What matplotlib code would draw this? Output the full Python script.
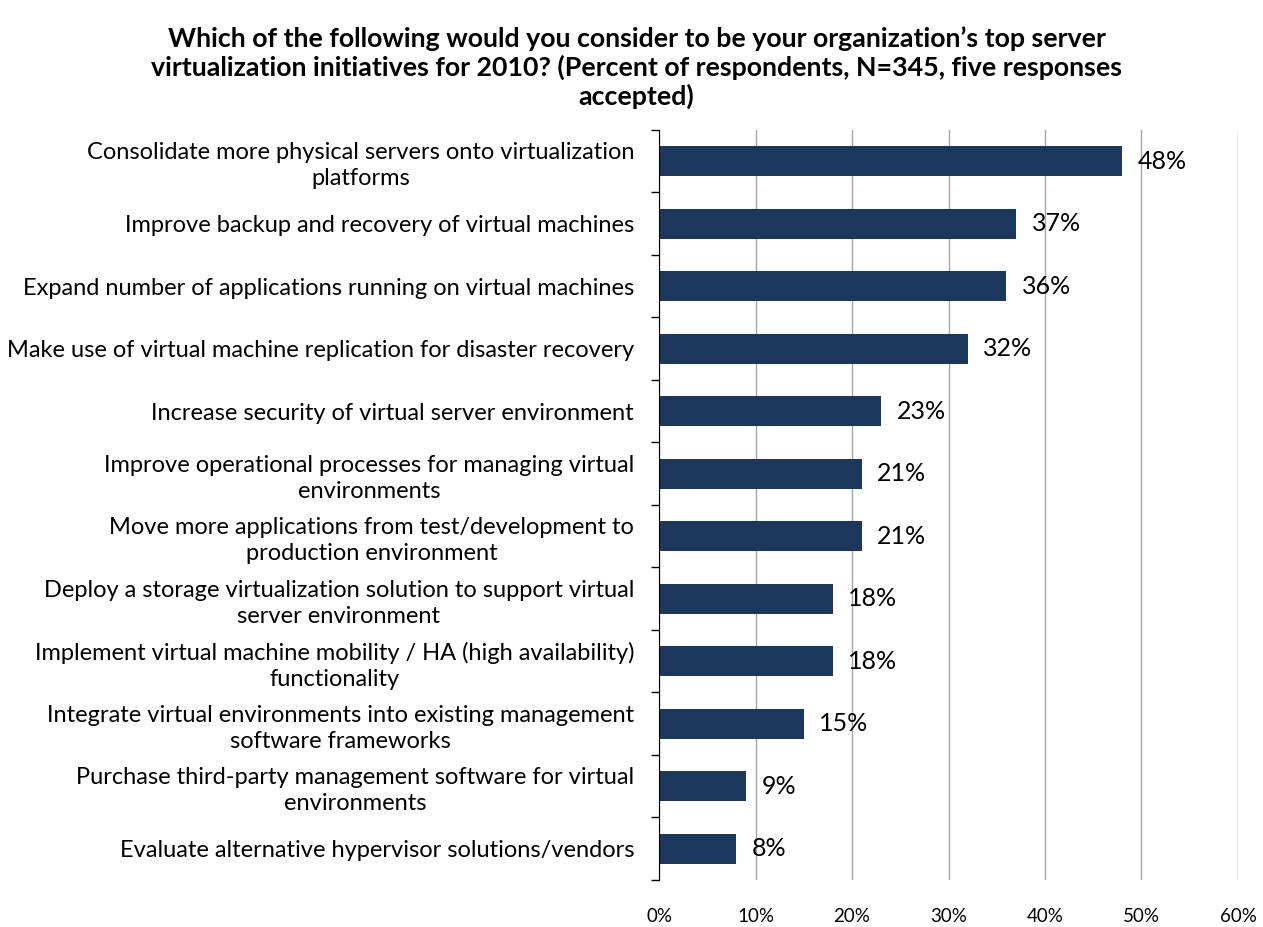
import matplotlib.pyplot as plt

plt.rcParams['font.family'] = ['Lato', 'DejaVu Sans']

categories = [
    'Consolidate more physical servers onto virtualization\nplatforms',
    'Improve backup and recovery of virtual machines',
    'Expand number of applications running on virtual machines',
    'Make use of virtual machine replication for disaster recovery',
    'Increase security of virtual server environment',
    'Improve operational processes for managing virtual\nenvironments',
    'Move more applications from test/development to\nproduction environment',
    'Deploy a storage virtualization solution to support virtual\nserver environment',
    'Implement virtual machine mobility / HA (high availability)\nfunctionality',
    'Integrate virtual environments into existing management\nsoftware frameworks',
    'Purchase third-party management software for virtual\nenvironments',
    'Evaluate alternative hypervisor solutions/vendors',
]
values = [48, 37, 36, 32, 23, 21, 21, 18, 18, 15, 9, 8]
xticks = [0, 10, 20, 30, 40, 50, 60]

title = ("Which of the following would you consider to be your organization\u2019s top server\n"
         "virtualization initiatives for 2010? (Percent of respondents, N=345, five responses\n"
         "accepted)")

fig = plt.figure(figsize=(12.63, 9.27), dpi=100)
ax = fig.add_axes([0.5218, 0.0507, 0.4584, 0.8091])

n = len(categories)
ypos = list(range(n))
ax.barh(ypos, values, height=0.48, color='#1B375C', zorder=3)
for y, v in zip(ypos, values):
    ax.text(v + 1.6, y, f'{v}%', va='center', ha='left', fontsize=18, zorder=4)

ax.set_ylim(n - 0.5, -0.5)
ax.set_xlim(0, 60)
ax.set_yticks(ypos)
ax.set_yticklabels(categories, fontsize=17, ha='right', multialignment='center',
                   linespacing=1.3)
ax.tick_params(axis='y', length=0, pad=18)
ax.set_yticks([i - 0.5 for i in range(n + 1)], minor=True)
ax.tick_params(axis='y', which='minor', length=6, direction='out', width=1)

ax.set_xticks(xticks)
ax.set_xticklabels([f'{t}%' for t in xticks], fontsize=13.5)
ax.tick_params(axis='x', length=0, pad=20)
ax.grid(axis='x', color='#A6A6A6', linewidth=1, zorder=0)

for s in ['top', 'right', 'bottom']:
    ax.spines[s].set_visible(False)
ax.spines['left'].set_color('black')
ax.spines['left'].set_zorder(5)

fig.text(0.504, 0.972, title, ha='center', va='top', fontsize=19.3,
         fontweight='bold', linespacing=1.17)

fig.savefig('out.png', dpi=100)
